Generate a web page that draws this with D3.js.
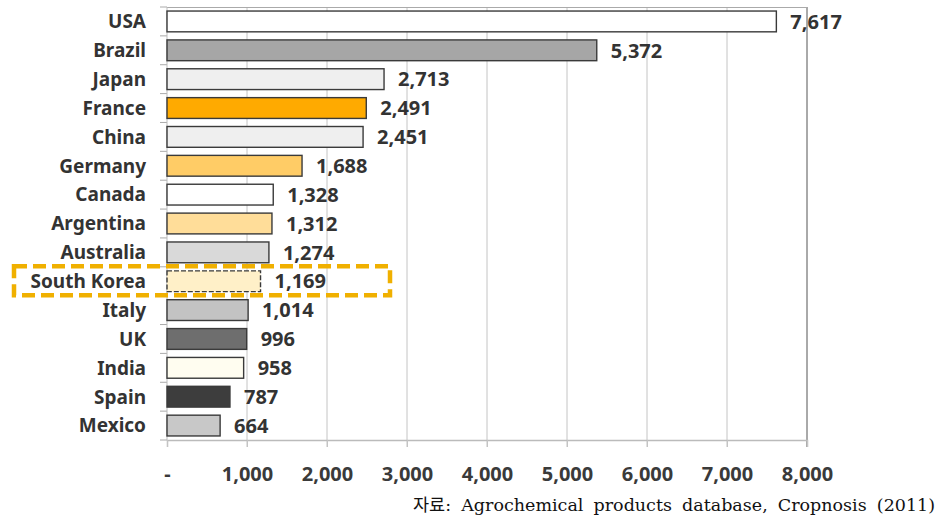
<!DOCTYPE html>
<html>
<head>
<meta charset="utf-8">
<script src="https://cdn.jsdelivr.net/npm/d3@7"></script>
<style>
  body { margin: 0; background: #fff; }
  svg { display: block; }
</style>
</head>
<body>
<div id="chart"></div>
<script>
const countries = ['USA', 'Brazil', 'Japan', 'France', 'China', 'Germany', 'Canada', 'Argentina',
  'Australia', 'South Korea', 'Italy', 'UK', 'India', 'Spain', 'Mexico'];
const sales = [7617, 5372, 2713, 2491, 2451, 1688, 1328, 1312, 1274, 1169, 1014, 996, 958, 787, 664];
const barColors = ['#ffffff', '#a6a6a6', '#efefef', '#ffaa00', '#efefef', '#ffcc66', '#ffffff', '#ffdd99',
  '#d9d9d9', '#fff0c8', '#c3c3c3', '#6e6e6e', '#fffdf0', '#3d3d3d', '#c8c8c8'];
const xTicks = [0, 1000, 2000, 3000, 4000, 5000, 6000, 7000, 8000];
const highlight = 'South Korea';
const source = '자료: Agrochemical products database, Cropnosis (2011)';

const W = 943, H = 525;
const M = { TOP: 7, LEFT: 167, RIGHT: 136, BOTTOM: 85 };
const fmt = d3.format(',');
const FONT = '"Noto Sans", sans-serif';

const svg = d3.select('#chart').append('svg')
  .attr('width', W).attr('height', H);

const x = d3.scaleLinear().domain([0, 8000]).range([M.LEFT, W - M.RIGHT]);
const y = d3.scaleBand().domain(countries).range([M.TOP, H - M.BOTTOM]).paddingInner(0.28).paddingOuter(0.14);

// gridlines
svg.append('g').selectAll('line').data(xTicks.slice(1)).join('line')
  .attr('x1', d => x(d)).attr('x2', d => x(d))
  .attr('y1', M.TOP).attr('y2', H - M.BOTTOM + 7)
  .attr('stroke', d => d === 8000 ? '#555' : '#c4c4c4').attr('stroke-width', 1);

// top frame
svg.append('line')
  .attr('x1', x(0)).attr('x2', x(8000)).attr('y1', M.TOP + 0.5).attr('y2', M.TOP + 0.5)
  .attr('stroke', '#aaa');

// x axis
const xAxis = svg.append('g')
  .attr('transform', `translate(0,${H - M.BOTTOM})`)
  .call(d3.axisBottom(x).tickValues(xTicks).tickSize(7).tickPadding(20)
    .tickFormat(d => d === 0 ? '-' : fmt(d)));
xAxis.select('.domain').attr('stroke', '#bbb').attr('stroke-width', 1.5);
xAxis.selectAll('.tick line').attr('stroke', '#c4c4c4');
xAxis.selectAll('.tick text')
  .attr('font-family', FONT).attr('font-weight', 'bold')
  .attr('font-size', 20).attr('fill', '#3a3a3a');

// y axis (ticks between bars)
const bandStep = y.step();
const yEdges = d3.range(countries.length + 1).map(i => y.range()[0] + i * bandStep);
svg.append('g').selectAll('line').data(yEdges).join('line')
  .attr('x1', x(0) - 7).attr('x2', x(0))
  .attr('y1', d => d).attr('y2', d => d)
  .attr('stroke', '#aaa');
svg.append('line')
  .attr('x1', x(0)).attr('x2', x(0)).attr('y1', M.TOP).attr('y2', H - M.BOTTOM)
  .attr('stroke', '#bbb');

// bars
svg.append('g').selectAll('rect').data(countries).join('rect')
  .attr('x', x(0))
  .attr('y', d => y(d))
  .attr('width', (d, i) => x(sales[i]) - x(0))
  .attr('height', y.bandwidth())
  .attr('fill', (d, i) => barColors[i])
  .attr('stroke', '#3a3a3a')
  .attr('stroke-width', 1.4)
  .attr('stroke-dasharray', d => d === highlight ? '5,2' : null);

// category labels
svg.append('g').selectAll('text').data(countries).join('text')
  .attr('x', x(0) - 21)
  .attr('y', d => y(d) + y.bandwidth() / 2)
  .attr('dy', '0.36em')
  .attr('text-anchor', 'end')
  .attr('font-family', FONT).attr('font-weight', 'bold')
  .attr('font-size', 19).attr('fill', '#333')
  .text(d => d);

// value labels
svg.append('g').selectAll('text').data(countries).join('text')
  .attr('x', (d, i) => x(sales[i]) + 14)
  .attr('y', d => y(d) + y.bandwidth() / 2)
  .attr('dy', '0.36em')
  .attr('font-family', FONT).attr('font-weight', 'bold')
  .attr('font-size', 20).attr('fill', '#333')
  .text((d, i) => fmt(sales[i]));

// highlight box around South Korea
const hy = y(highlight) + y.bandwidth() / 2;
svg.append('rect')
  .attr('x', 14).attr('y', hy - 15)
  .attr('width', 376).attr('height', 29)
  .attr('fill', 'none')
  .attr('stroke', '#f0b000').attr('stroke-width', 4.5)
  .attr('stroke-dasharray', '13,6');

// source note
const src = svg.append('text')
  .attr('x', 935).attr('y', 511)
  .attr('text-anchor', 'end')
  .attr('font-family', '"DejaVu Serif", "Noto Sans CJK KR", serif')
  .attr('font-size', 17.5).attr('fill', '#111')
  .text(source);
const natural = src.node().getComputedTextLength();
const gaps = source.split(' ').length - 1;
src.attr('word-spacing', Math.max(0, (522 - natural) / gaps));
</script>
</body>
</html>
